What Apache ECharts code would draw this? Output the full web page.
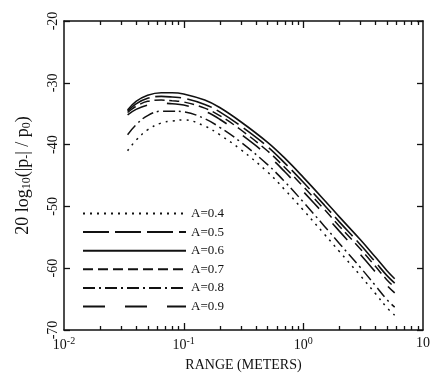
<!DOCTYPE html>
<html><head><meta charset="utf-8">
<script src="https://cdn.jsdelivr.net/npm/echarts@6/dist/echarts.min.js"></script>
<style>html,body{margin:0;padding:0;background:#fff}#c{width:431px;height:374px}</style>
</head><body><div id="c"></div>
<script>
const rangeM = [0.034, 0.04, 0.05, 0.065, 0.08, 0.1, 0.15, 0.2, 0.3, 0.5, 0.7, 1, 1.5, 2, 3, 4, 5, 5.8];
const seriesNames = ['A=0.4', 'A=0.5', 'A=0.6', 'A=0.7', 'A=0.8', 'A=0.9'];
const a04 = [-41.0, -39.3, -37.6, -36.5, -36.2, -36.0, -37.0, -38.4, -40.8, -44.4, -47.3, -50.6, -54.5, -57.3, -61.2, -64.1, -66.4, -67.6];
const a05 = [-34.6, -33.4, -32.5, -32.2, -32.3, -32.5, -33.5, -34.7, -37.0, -40.3, -43.0, -46.1, -49.8, -52.5, -56.2, -59.0, -61.2, -62.4];
const a06 = [-34.4, -33.0, -32.0, -31.6, -31.6, -31.8, -32.8, -34.0, -36.3, -39.6, -42.2, -45.3, -49.0, -51.7, -55.4, -58.2, -60.4, -61.7];
const a07 = [-34.8, -33.8, -33.0, -32.8, -32.9, -33.1, -34.1, -35.3, -37.6, -41.0, -43.7, -46.8, -50.5, -53.2, -56.9, -59.7, -61.9, -63.1];
const a08 = [-38.4, -36.8, -35.3, -34.6, -34.6, -34.7, -35.8, -37.2, -39.6, -43.2, -46.0, -49.3, -53.2, -56.0, -59.9, -62.8, -65.1, -66.3];
const a09 = [-35.2, -34.3, -33.6, -33.3, -33.4, -33.6, -34.6, -35.9, -38.3, -41.7, -44.4, -47.6, -51.3, -54.0, -57.8, -60.6, -62.8, -64.0];
const xMajorTicks = [0.01, 0.1, 1, 10];
const xTickLabels = ['10{s|-2}', '10{s|-1}', '10{s|0}', '10'];
const yTicks = [-70, -60, -50, -40, -30, -20];

const valueSets = [a04, a05, a06, a07, a08, a09];
const dashes = [[2, 5], [26, 6], 'solid', [10, 5], [12, 4, 2, 4], [22, 20]];
const widths = [1.5, 1.6, 1.6, 1.5, 1.5, 1.6];
const xMinorTicks = [];
for (let d = 0.01; d < 10; d *= 10) for (let k = 2; k <= 9; k++) xMinorTicks.push(+(k * d).toPrecision(3));
const xAllTicks = xMajorTicks.slice(1, -1).concat(xMinorTicks);

const FONT = 'Liberation Serif';
const chart = echarts.init(document.getElementById('c'), null, {renderer: 'canvas'});
const blk = '#111';
const G = {left: 64, right: 8, top: 21, bottom: 44, containLabel: false, outerBoundsMode: 'none'};

const xAxes = [
  {
    type: 'log', logBase: 10, min: 0.01, max: 10, position: 'bottom',
    axisLine: {show: true, onZero: false, lineStyle: {color: blk, width: 1.5}},
    axisTick: {show: false}, splitLine: {show: false}, minorTick: {show: false},
    axisLabel: {
      show: true, margin: 6, fontFamily: FONT, fontSize: 14, color: blk,
      formatter: function (v) { const i = xMajorTicks.findIndex(t => Math.abs(Math.log10(t) - Math.log10(v)) < 1e-6); return i >= 0 ? xTickLabels[i] : ''; },
      rich: {s: {fontSize: 10, fontFamily: FONT, color: blk, verticalAlign: 'top', padding: [0, 0, 8, 0]}}
    },
    name: 'RANGE (METERS)', nameLocation: 'middle', nameGap: 28,
    nameTextStyle: {fontFamily: FONT, fontSize: 14, color: blk}
  },
  {
    type: 'log', logBase: 10, min: 0.01, max: 10, position: 'top',
    axisLine: {show: true, onZero: false, lineStyle: {color: blk, width: 1.5}},
    axisTick: {show: false}, axisLabel: {show: false}, splitLine: {show: false}
  }
];

const yAxes = [
  {
    type: 'value', min: -70, max: -20, interval: 10, position: 'left',
    axisLine: {show: true, onZero: false, lineStyle: {color: blk, width: 1.5}},
    axisTick: {show: true, inside: true, length: 6, lineStyle: {color: blk, width: 1.3}},
    splitLine: {show: false},
    axisLabel: {show: true, rotate: 90, margin: 4, fontFamily: FONT, fontSize: 14, color: blk,
      formatter: v => yTicks.includes(v) ? String(v) : ''},
    name: '20 log{sub|10}(|p{sub|-}| / p{sub|0})', nameLocation: 'middle', nameGap: 31, nameRotate: 90,
    nameTextStyle: {fontFamily: FONT, fontSize: 18, color: blk,
      rich: {sub: {fontFamily: FONT, fontSize: 12, color: blk, verticalAlign: 'bottom', padding: [8, 0, 0, 0]}}}
  },
  {
    type: 'value', min: -70, max: -20, interval: 10, position: 'right',
    axisLine: {show: true, onZero: false, lineStyle: {color: blk, width: 1.5}},
    axisTick: {show: true, inside: true, length: 6, lineStyle: {color: blk, width: 1.3}},
    splitLine: {show: false}, axisLabel: {show: false}
  }
];

const series = seriesNames.map((n, i) => ({
  name: n, type: 'line', xAxisIndex: 0, yAxisIndex: 0,
  smooth: 0.4, symbol: 'none', silent: true,
  lineStyle: {color: blk, width: widths[i], type: dashes[i]},
  itemStyle: {color: blk},
  data: rangeM.map((x, j) => [x, valueSets[i][j]])
}));

// log-axis tick marks on bottom and top frame edges, placed via the x-axis scale
series.push({
  type: 'custom', xAxisIndex: 0, yAxisIndex: 0, silent: true, clip: false, z: 5,
  data: xAllTicks.map(v => [v, -70]),
  renderItem: function (params, api) {
    const v = api.value(0);
    const len = xMajorTicks.indexOf(v) >= 0 ? 7 : 4;
    const b = api.coord([v, -70]);
    const t = api.coord([v, -20]);
    const x = Math.round(b[0]) + 0.5;
    return {
      type: 'group', children: [
        {type: 'line', shape: {x1: x, y1: b[1], x2: x, y2: b[1] - len}, style: {stroke: blk, lineWidth: 1.3}},
        {type: 'line', shape: {x1: x, y1: t[1], x2: x, y2: t[1] + len}, style: {stroke: blk, lineWidth: 1.3}}
      ]
    };
  }
});

chart.setOption({
  animation: false,
  backgroundColor: '#fff',
  grid: G,
  legend: {
    orient: 'vertical', left: 77, top: 202, itemWidth: 103, itemHeight: 10, itemGap: 5.6,
    textStyle: {fontFamily: FONT, fontSize: 13, color: blk},
    itemStyle: {opacity: 0},
    selectedMode: false,
    data: seriesNames
  },
  xAxis: xAxes,
  yAxis: yAxes,
  series: series
});
</script></body></html>
